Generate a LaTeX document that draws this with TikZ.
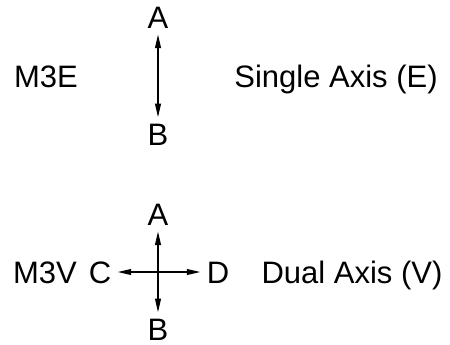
\documentclass[tikz,border=0pt]{standalone}
\usepackage{fontspec}
\setmainfont{Liberation Sans}
\usetikzlibrary{arrows.meta}
\tikzstyle{lbl} = [inner sep=0pt, outer sep=3pt, anchor=base, font=\fontsize{15.5}{18}\selectfont]
\tikzstyle{axis} = [line width=1pt, {Triangle[length=7pt,width=2.8pt]}-{Triangle[length=7pt,width=2.8pt]}]
\begin{document}
\begin{tikzpicture}[x=0.5pt,y=-0.5pt]
\useasboundingbox (0,0) rectangle (450,344);
% single axis
\node (m3e) [lbl] at (46,87) {M3E};
\node (a1) [lbl] at (158,28) {A};
\node (b1) [lbl] at (158,145) {B};
\node (single) [lbl] at (336,87) {Single Axis (E)};
\draw [axis] (a1) -- (b1);
%
% dual axis
\node (m3v) [lbl] at (45,283) {M3V};
\node (a2) [lbl] at (158,225) {A};
\node (b2) [lbl] at (158,340) {B};
\node (c2) [lbl] at (100,283) {C};
\node (d2) [lbl] at (218,283) {D};
\node (dual) [lbl] at (352,283) {Dual Axis (V)};
\draw [axis] (a2) -- (b2);
\draw [axis] (c2.east |- 0,272) -- (d2.west |- 0,272);
\end{tikzpicture}
\end{document}
